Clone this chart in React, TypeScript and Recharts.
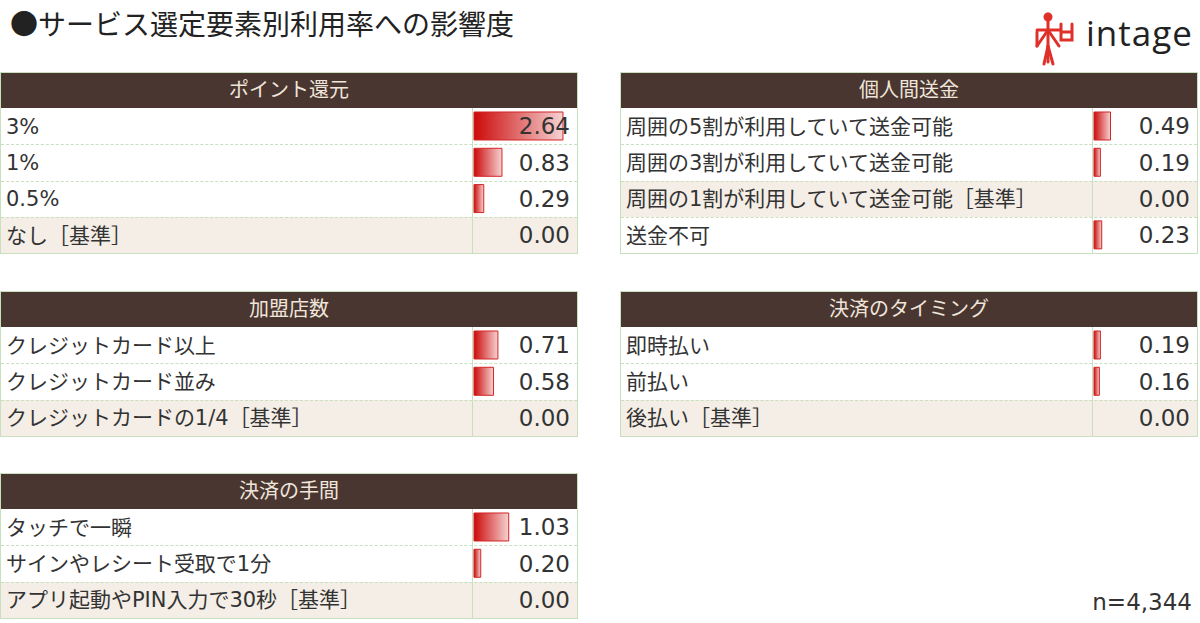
import { BarChart, Bar, XAxis, YAxis } from 'recharts';

// data
const pointLabels = ['3%', '1%', '0.5%', 'なし［基準］'];
const pointValues = [2.64, 0.83, 0.29, 0.0];

const remitLabels = [
  '周囲の5割が利用していて送金可能',
  '周囲の3割が利用していて送金可能',
  '周囲の1割が利用していて送金可能［基準］',
  '送金不可',
];
const remitValues = [0.49, 0.19, 0.0, 0.23];

const storeLabels = ['クレジットカード以上', 'クレジットカード並み', 'クレジットカードの1/4［基準］'];
const storeValues = [0.71, 0.58, 0.0];

const timingLabels = ['即時払い', '前払い', '後払い［基準］'];
const timingValues = [0.19, 0.16, 0.0];

const effortLabels = ['タッチで一瞬', 'サインやレシート受取で1分', 'アプリ起動やPIN入力で30秒［基準］'];
const effortValues = [1.03, 0.2, 0.0];

const MAX_VALUE = Math.max(...pointValues, ...remitValues, ...storeValues, ...timingValues, ...effortValues);

const PANEL_W = 576;
const HEAD_H = 35;
const ROW_H = 36.3;
const DIV_X = 471;
const BAR_X = 473;
const BAR_SPAN = 89;

const FONT = '"DejaVu Sans", "Noto Sans CJK JP", sans-serif';
const GRID = '#c9e0bf';
const BASE_BG = '#f4eee7';

// row label on the left, value right-aligned in the value column
function RowTick(props: any) {
  const { y, payload, values } = props;
  const v = values[payload.index];
  return (
    <g>
      <text x={5} y={y} dy="0.36em" fontSize={21} fill="#333" fontFamily={FONT}>
        {payload.value}
      </text>
      <text x={PANEL_W - 7} y={y} dy="0.36em" textAnchor="end" fontSize={23} fill="#333" fontFamily={FONT}>
        {Number(v).toFixed(2)}
      </text>
    </g>
  );
}

function Panel({ title, labels, values, left, top, id }: { title: string; labels: string[]; values: number[]; left: number; top: number; id: string }) {
  const data = labels.map((label, i) => ({ label, value: values[i] }));
  const bodyH = labels.length * ROW_H;
  return (
    <div
      style={{
        position: 'absolute',
        left,
        top,
        width: PANEL_W,
        border: `1px solid ${GRID}`,
        background: '#fff',
      }}
    >
      <div
        style={{
          height: HEAD_H,
          background: '#4a3630',
          color: '#efe5db',
          fontFamily: FONT,
          fontSize: 20,
          lineHeight: `${HEAD_H}px`,
          textAlign: 'center',
        }}
      >
        {title}
      </div>
      <div style={{ position: 'relative', height: bodyH }}>
        {data.map((d, i) => (
          <div
            key={d.label}
            style={{
              position: 'absolute',
              left: 0,
              top: i * ROW_H,
              width: PANEL_W,
              height: ROW_H,
              boxSizing: 'border-box',
              background: d.label.includes('［基準］') ? BASE_BG : '#fff',
              borderTop: i === 0 ? 'none' : `1px dashed ${GRID}`,
            }}
          />
        ))}
        <div style={{ position: 'absolute', left: DIV_X, top: 0, width: 1, height: bodyH, background: GRID }} />
        <div style={{ position: 'absolute', left: 0, top: 0 }}>
          <BarChart
            width={PANEL_W}
            height={bodyH}
            data={data}
            layout="vertical"
            margin={{ top: 0, right: PANEL_W - BAR_X - BAR_SPAN, bottom: 0, left: 0 }}
            barCategoryGap={4}
          >
            <defs>
              <linearGradient id={`grad-${id}`} x1="0" y1="0" x2="1" y2="0">
                <stop offset="0%" stopColor="#cc0a0a" />
                <stop offset="100%" stopColor="#f6d2d2" />
              </linearGradient>
            </defs>
            <XAxis type="number" domain={[0, MAX_VALUE]} hide />
            <YAxis
              type="category"
              dataKey="label"
              width={BAR_X}
              axisLine={false}
              tickLine={false}
              tick={<RowTick values={values} />}
              interval={0}
            />
            <Bar dataKey="value" fill={`url(#grad-${id})`} stroke="#d32424" strokeWidth={1} isAnimationActive={false} />
          </BarChart>
        </div>
      </div>
    </div>
  );
}

function Logo() {
  return (
    <div style={{ position: 'absolute', left: 1032, top: 8 }}>
      <svg width={44} height={60}>
        <g stroke="#e0302a" strokeWidth={3} fill="none" strokeLinecap="round">
          <circle cx={16} cy={9} r={3} fill="#e0302a" />
          <line x1={16} y1={6} x2={16} y2={54} />
          <line x1={5} y1={22} x2={28} y2={22} />
          <line x1={16} y1={22} x2={5} y2={38} />
          <line x1={16} y1={22} x2={27} y2={38} />
          <line x1={5} y1={24} x2={5} y2={38} />
          <line x1={16} y1={38} x2={12} y2={56} />
          <line x1={16} y1={38} x2={21} y2={56} />
          <path d="M29 16 L29 32 L40 32 L40 16 M29 24 L40 24" />
        </g>
      </svg>
      <div
        style={{
          position: 'absolute',
          left: 54,
          top: 0,
          fontFamily: '"Open Sans", sans-serif',
          fontSize: 35,
          color: '#222',
          letterSpacing: 1,
          lineHeight: '50px',
        }}
      >
        intage
      </div>
    </div>
  );
}

export default function App() {
  return (
    <div style={{ position: 'absolute', left: 0, top: 0, width: 1200, height: 623, background: '#fff', overflow: 'hidden' }}>
      <div
        style={{
          position: 'absolute',
          left: 10,
          top: 3,
          fontFamily: '"Noto Sans CJK JP", sans-serif',
          fontSize: 28,
          color: '#222',
          lineHeight: '40px',
        }}
      >
        ●サービス選定要素別利用率への影響度
      </div>
      <Logo />
      <Panel id="p1" title="ポイント還元" labels={pointLabels} values={pointValues} left={0} top={72} />
      <Panel id="p2" title="個人間送金" labels={remitLabels} values={remitValues} left={620} top={72} />
      <Panel id="p3" title="加盟店数" labels={storeLabels} values={storeValues} left={0} top={291} />
      <Panel id="p4" title="決済のタイミング" labels={timingLabels} values={timingValues} left={620} top={291} />
      <Panel id="p5" title="決済の手間" labels={effortLabels} values={effortValues} left={0} top={473} />
      <div
        style={{
          position: 'absolute',
          right: 8,
          top: 589,
          fontFamily: FONT,
          fontSize: 23,
          color: '#333',
        }}
      >
        n=4,344
      </div>
    </div>
  );
}
